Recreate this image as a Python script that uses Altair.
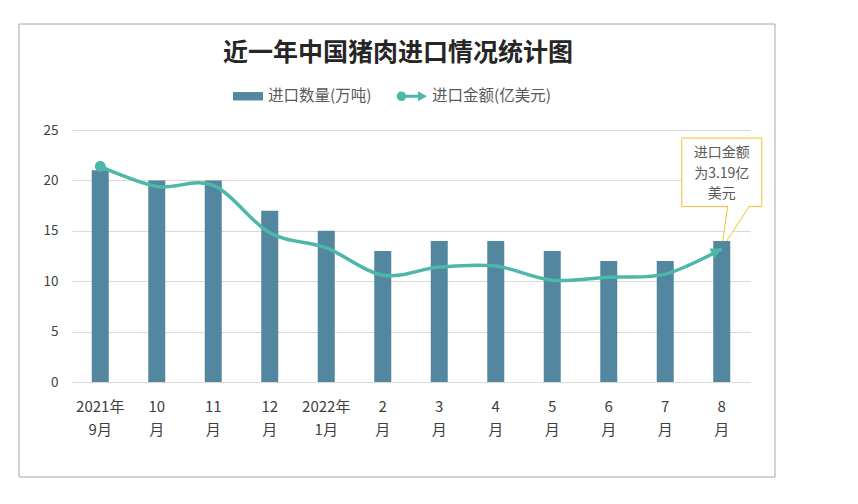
import math
import altair as alt
import pandas as pd

# ---------------- data ----------------
cat_top = ["2021年", "10", "11", "12", "2022年", "2", "3", "4", "5", "6", "7", "8"]
cat_bottom = ["9月", "月", "月", "月", "1月", "月", "月", "月", "月", "月", "月", "月"]
quantity = [21, 20, 20, 17, 15, 13, 14, 14, 13, 12, 12, 14]          # 进口数量(万吨)
amount = [21.4, 19.4, 19.5, 14.8, 13.3, 10.6, 11.4, 11.5, 10.1, 10.4, 10.7, 13.2]  # 进口金额 line
series = ["进口数量(万吨)", "进口金额(亿美元)"]
y_ticks = [0, 5, 10, 15, 20, 25]
title_text = "近一年中国猪肉进口情况统计图"
note_text = "进口金额\n为3.19亿\n美元"
note_top, note_first_line, note_bottom = 24.2, 22.7, 17.4

# ---------------- styles ----------------
FONT = "Noto Sans CJK SC"
BAR = "#52879F"
LINE = "#4DB8A9"
GRID = "#D9D9D9"
NOTE = "#F2C232"

cats = [a + "\n" + b for a, b in zip(cat_top, cat_bottom)]
df = pd.DataFrame({"cat": cats, "quantity": quantity, "amount": amount})
note_df = pd.DataFrame({"cat": [cats[-1]], "text": [note_text], "top": [note_top],
                        "first": [note_first_line], "bottom": [note_bottom]})
legend_df = pd.DataFrame({"series": series})
single_df = pd.DataFrame({"title": [title_text]})

# legend symbol paths
bar_path = "M-1,-0.28L1,-0.28L1,0.28L-1,0.28Z"
circ = []
for i in range(16):
    a = -math.pi + 2 * math.pi * i / 16
    circ.append(f"{-0.7 + 0.32 * math.cos(a):.3f},{0.32 * math.sin(a):.3f}")
line_path = ("M" + "L".join(circ) + "Z"
             "M-0.45,-0.1L0.5,-0.1L0.5,0.1L-0.45,0.1Z"
             "M0.4,-0.34L1,0L0.4,0.34Z")
arrow_path = "M0.1,0L-1.1,-0.55L-1.1,0.55Z"
pointer_path = "M6,-1L0,42L28,-1"

X = alt.X("cat:N", sort=cats, title=None,
          scale=alt.Scale(paddingInner=0, paddingOuter=0),
          axis=alt.Axis(labelAngle=0, ticks=False, domainColor=GRID, grid=False,
                        labelPadding=17, labelLineHeight=23, labelFontSize=15,
                        labelExpr="split(datum.value, '\\n')"))
yscale = alt.Scale(domain=[0, 25], nice=False)
yaxis = alt.Axis(values=y_ticks, domain=False, ticks=False, grid=True,
                 gridColor=GRID, labelPadding=14, labelFontSize=13.5)

frame = alt.Chart(single_df).mark_rect(fill="transparent", stroke="#A6A6A6", strokeWidth=1).encode(
    x=alt.value(-53), x2=alt.value(703), y=alt.value(-106), y2=alt.value(347))

title = alt.Chart(single_df).mark_text(font=FONT, fontSize=25, fontWeight="bold", color="#262626",
                                       align="center", baseline="middle").encode(
    x=alt.value(326), y=alt.value(-77), text="title:N")

box = alt.Chart(note_df).mark_bar(size=80, fill="white", stroke=NOTE, strokeWidth=1).encode(
    x=X, y=alt.Y("top:Q", scale=yscale, axis=yaxis, title=None), y2="bottom:Q")

pointer = alt.Chart(note_df).mark_point(shape=pointer_path, size=4, fill="white", stroke=NOTE,
                                         strokeWidth=1, opacity=1, fillOpacity=1).encode(
    x=X, y=alt.Y("bottom:Q", scale=yscale, title=None))

bars = alt.Chart(df).mark_bar(size=17, color=BAR).encode(
    x=X, y=alt.Y("quantity:Q", scale=yscale, axis=yaxis, title=None))

line = alt.Chart(df).mark_line(color=LINE, strokeWidth=3.5, interpolate="cardinal").encode(
    x=X, y=alt.Y("amount:Q", scale=yscale, title=None))

start_pt = alt.Chart(df).transform_filter(alt.datum.cat == cats[0]).mark_point(
    filled=True, size=120, color=LINE, opacity=1).encode(
    x=X, y=alt.Y("amount:Q", scale=yscale, title=None))

end_pt = alt.Chart(df).transform_filter(alt.datum.cat == cats[-1]).mark_point(
    filled=True, size=400, color=LINE, opacity=1, shape=arrow_path, angle=336).encode(
    x=X, y=alt.Y("amount:Q", scale=yscale, title=None))

note = alt.Chart(note_df).mark_text(font=FONT, fontSize=14, color="#595959", lineBreak="\n",
                                    lineHeight=20.5, baseline="middle", align="center").encode(
    x=X, y=alt.Y("first:Q", scale=yscale, title=None), text="text:N")

leg_def = alt.Legend(orient="none", legendX=161, legendY=-49, direction="horizontal", title=None,
                     symbolSize=900, symbolStrokeWidth=0, symbolOpacity=1,
                     labelFont=FONT, labelFontSize=15.5, labelColor="#595959",
                     columnPadding=24, labelOffset=5)
legend_layer = alt.Chart(legend_df).mark_point(filled=True, opacity=0).encode(
    color=alt.Color("series:N", scale=alt.Scale(domain=series, range=[BAR, LINE]), legend=leg_def),
    shape=alt.Shape("series:N", scale=alt.Scale(domain=series, range=[bar_path, line_path]), legend=leg_def),
)

chart = alt.layer(frame, title, box, pointer, bars, line, start_pt, end_pt, note, legend_layer).properties(
    width=678, height=252,
    padding={"left": 64, "top": 122, "right": 80, "bottom": 100},
    autosize=alt.AutoSizeParams(type="none"),
    background="white",
).configure_axis(
    labelFont=FONT, labelColor="#404040"
).configure_view(strokeWidth=0)

chart.save("out.html", embed_options={"renderer": "svg", "actions": False})
